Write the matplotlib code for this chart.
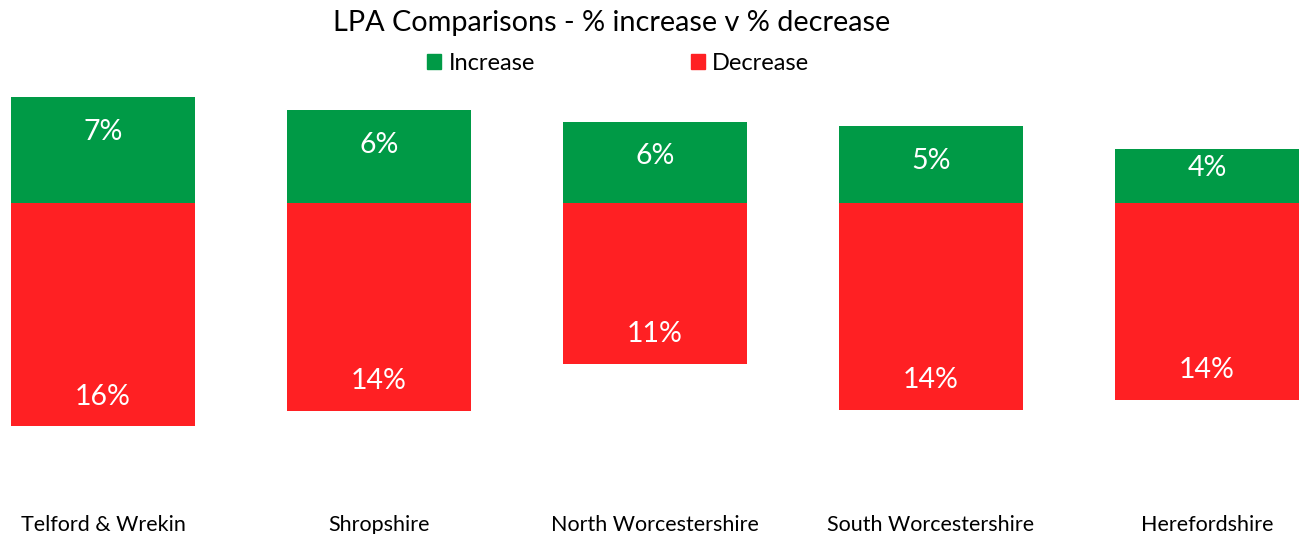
import matplotlib.pyplot as plt
import numpy as np
from matplotlib.patches import Patch

plt.rcParams['font.family'] = ['Lato', 'DejaVu Sans']

# data (percent)
areas = ['Telford & Wrekin', 'Shropshire', 'North Worcestershire',
         'South Worcestershire', 'Herefordshire']
increase = [7.4, 6.5, 5.7, 5.4, 3.8]
decrease = [15.55, 14.45, 11.2, 14.4, 13.7]

green = '#009A46'
red = '#FF2023'

# label offsets (points) below the top of the green bars - last one sits higher
inc_offsets = [-25, -25, -25, -25, -13.5]

fig = plt.figure(figsize=(13.07, 5.34), dpi=100)
ax = fig.add_axes([0, 26 / 534, 1, 508 / 534])

x = np.arange(len(areas))
dec_neg = [-d for d in decrease]
ax.bar(x, increase, width=0.667, color=green)
ax.bar(x, dec_neg, width=0.667, color=red)

# labels inside the ends of the bars
for xi, v, off in zip(x, increase, inc_offsets):
    ax.annotate(f"{v:.0f}%", (xi, v), xytext=(0, off), textcoords='offset points',
                ha='center', va='center', color='white', fontsize=20.5)
for xi, v in zip(x, dec_neg):
    ax.annotate(f"{-v:.0f}%", (xi, v), xytext=(0, 21.5), textcoords='offset points',
                ha='center', va='center', color='white', fontsize=20.5)

ax.set_xlim(-0.373, 4.362)
ax.set_ylim(-21.23, 14.17)
ax.set_xticks(x)
ax.set_xticklabels(areas, fontsize=15.5)
ax.tick_params(axis='x', length=0, pad=5)
ax.set_yticks([])
for s in ax.spines.values():
    s.set_visible(False)

fig.text(0.468, 0.956, 'LPA Comparisons - % increase v % decrease',
         ha='center', va='center', fontsize=20.8)

handles = [Patch(color=green, label='Increase'), Patch(color=red, label='Decrease')]
fig.legend(handles=handles, loc='center', bbox_to_anchor=(0.473, 0.882), ncol=2,
           frameon=False, fontsize=17, handlelength=0.6, handleheight=0.6,
           handletextpad=0.3, columnspacing=6.6, borderpad=0.2)

fig.savefig('out.png', dpi=100)
